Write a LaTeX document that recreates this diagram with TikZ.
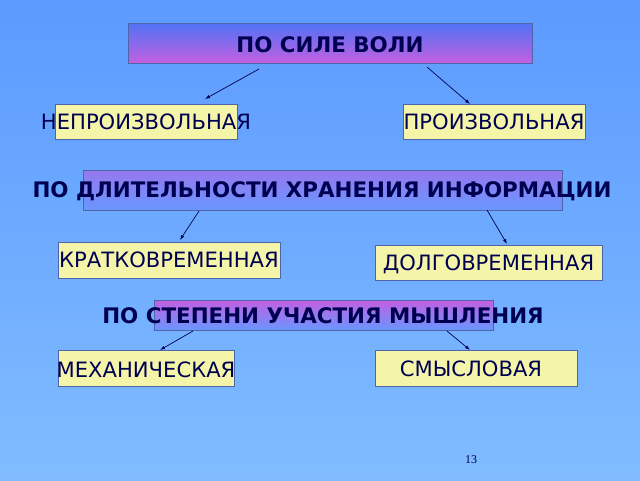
\documentclass[tikz,border=0pt]{standalone}
\usepackage{fontspec}
\setmainfont{DejaVu Sans}
\newfontfamily\numfont{Liberation Serif}
\usetikzlibrary{arrows.meta,calc}
\definecolor{bgtop}{RGB}{92,154,255}
\definecolor{bgbot}{RGB}{128,188,255}
\definecolor{navy}{RGB}{0,0,80}
\definecolor{ylw}{RGB}{245,245,170}
\definecolor{bord}{RGB}{80,100,170}
\definecolor{gblue}{RGB}{80,115,245}
\definecolor{gmag}{RGB}{195,95,225}
\definecolor{gpurp}{RGB}{150,120,238}
\definecolor{gsky}{RGB}{105,150,255}
\begin{document}
\begin{tikzpicture}[x=1pt,y=-1pt,
  catbox/.style={draw=bord,line width=0.8pt,minimum width=#1,minimum height=40pt,inner sep=0pt},
  ybox/.style={draw=bord,line width=0.8pt,fill=ylw,inner sep=0pt,minimum height=35pt},
  cattext/.style={font=\bfseries\fontsize{21.4}{24}\selectfont,text=navy,inner sep=0pt},
  ytext/.style={font=\fontsize{21.1}{24}\selectfont,text=navy,inner sep=0pt},
  conn/.style={draw=navy,line width=0.7pt,-{Latex[length=5pt,width=3.5pt]}}]
\fill[top color=bgtop,bottom color=bgbot] (0,0) rectangle (640,480);
\useasboundingbox (0,0) rectangle (640,480);
% level 1
\node[catbox=404pt,top color=gblue,bottom color=gmag] (b1) at (330,43) {};
\node[cattext] (t1) at (330,45) {ПО СИЛЕ ВОЛИ};
\node[ybox,minimum width=182pt] (n1) at (146,122) {};
\node[ytext] (n1t) at (146,122) {НЕПРОИЗВОЛЬНАЯ};
\node[ybox,minimum width=182pt] (n2) at (494,122) {};
\node[ytext] (n2t) at (494,122) {ПРОИЗВОЛЬНАЯ};
\coordinate (a1s) at (259,69); \coordinate (a1e) at (205,99);
\coordinate (a2s) at (427,67); \coordinate (a2e) at (470,104);
\draw[conn] (a1s) -- (a1e);
\draw[conn] (a2s) -- (a2e);
% level 2
\node[catbox=479pt,top color=gpurp,bottom color=gsky] (b2) at (322.5,190) {};
\node[cattext] (t2) at (322,191) {ПО ДЛИТЕЛЬНОСТИ ХРАНЕНИЯ ИНФОРМАЦИИ};
\node[ybox,minimum width=222pt,minimum height=36pt] (n3) at (169,260) {};
\node[ytext] (n3t) at (169,260) {КРАТКОВРЕМЕННАЯ};
\node[ybox,minimum width=227pt] (n4) at (488.5,262.5) {};
\node[ytext] (n4t) at (488.5,264) {ДОЛГОВРЕМЕННАЯ};
\coordinate (a3s) at (199,211); \coordinate (a3e) at (180,240);
\coordinate (a4s) at (487,210); \coordinate (a4e) at (507,244);
\draw[conn] (a3s) -- (a3e);
\draw[conn] (a4s) -- (a4e);
% level 3
\node[catbox=339pt,minimum height=30pt,top color=gmag,bottom color=gsky] (b3) at (323.5,315) {};
\node[cattext] (t3) at (323,316) {ПО СТЕПЕНИ УЧАСТИЯ МЫШЛЕНИЯ};
\node[ybox,minimum width=176pt,minimum height=36pt] (n5) at (146,368) {};
\node[ytext] (n5t) at (146,370) {МЕХАНИЧЕСКАЯ};
\node[ybox,minimum width=202pt,minimum height=36pt] (n6) at (476,368) {};
\node[ytext] (n6t) at (471,369) {СМЫСЛОВАЯ};
\coordinate (a5s) at (193,331); \coordinate (a5e) at (160,350);
\coordinate (a6s) at (447,331); \coordinate (a6e) at (470,350);
\draw[conn] (a5s) -- (a5e);
\draw[conn] (a6s) -- (a6e);
\node[font=\numfont\fontsize{12}{14}\selectfont,text=navy] (pg) at (471,460) {13};
\end{tikzpicture}
\end{document}
